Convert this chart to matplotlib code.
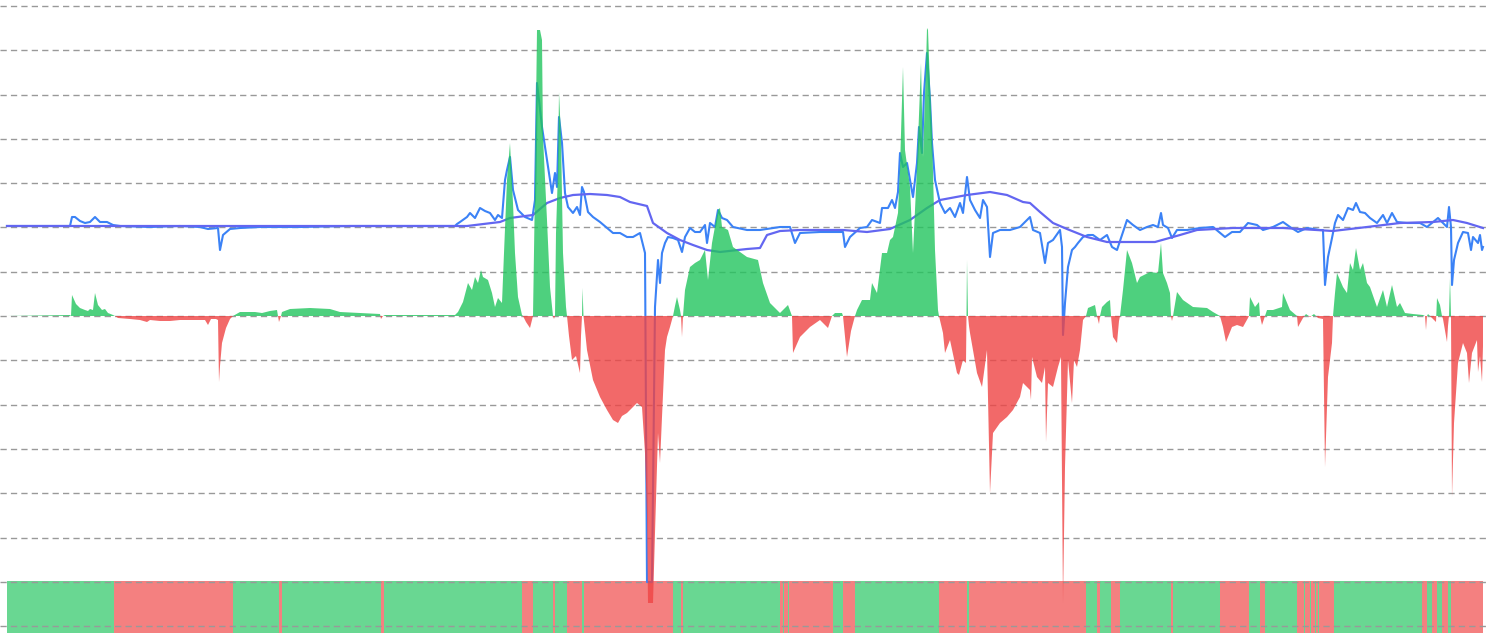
import numpy as np
import matplotlib.pyplot as plt

# price line (offset units, hist zero = 0)
price_t = [7, 70, 72, 75, 80, 85, 90, 95, 100, 107, 113, 120, 150, 180, 200, 208, 218, 220, 223, 230,
           240, 260, 300, 350, 400, 455, 457, 460, 467, 470, 475, 480, 485, 490, 495, 498, 502, 505,
           507, 510, 513, 518, 525, 532, 535, 537, 539, 542, 544, 547, 552, 555, 557, 559, 562, 565,
           568, 573, 577, 580, 582, 584, 588, 593, 600, 607, 613, 620, 627, 633, 640, 645, 647, 648,
           652, 655, 658, 660, 662, 665, 668, 673, 678, 682, 685, 690, 695, 700, 705, 707, 710, 715,
           718, 722, 727, 733, 747, 760, 780, 790, 795, 800, 820, 843, 845, 850, 860, 867, 872, 880,
           882, 888, 892, 895, 898, 900, 903, 907, 910, 913, 917, 919, 922, 924, 927, 930, 932, 935,
           940, 945, 950, 955, 960, 963, 967, 970, 975, 980, 983, 987, 990, 993, 1000, 1010, 1020,
           1030, 1033, 1040, 1045, 1048, 1053, 1060, 1062, 1063, 1065, 1068, 1072, 1075, 1078, 1083,
           1088, 1093, 1100, 1107, 1112, 1117, 1122, 1127, 1133, 1140, 1147, 1153, 1158, 1161, 1163,
           1168, 1172, 1177, 1187, 1200, 1213, 1225, 1232, 1240, 1248, 1257, 1263, 1273, 1283, 1290,
           1298, 1307, 1320, 1323, 1325, 1328, 1332, 1335, 1338, 1343, 1348, 1353, 1356, 1360, 1365,
           1370, 1377, 1383, 1387, 1392, 1397, 1407, 1420, 1427, 1438, 1447, 1449, 1451, 1452, 1454,
           1458, 1463, 1468, 1471, 1473, 1478, 1480, 1482, 1483]
price_v = [90, 90, 99, 99, 95, 93, 94, 99, 94, 94, 91, 90, 89, 90, 89, 87, 88, 66, 81, 87,
           88, 89, 89, 90, 90, 90, 92, 94, 99, 103, 98, 108, 105, 103, 96, 101, 98, 136,
           146, 159, 126, 106, 99, 96, 116, 233, 216, 189, 176, 156, 123, 143, 129, 199, 173, 123,
           109, 103, 109, 101, 129, 124, 104, 99, 94, 88, 83, 83, 79, 79, 83, 63, -266, -266,
           -266, 9, 56, 33, 63, 73, 79, 78, 76, 64, 79, 88, 84, 84, 91, 73, 93, 89,
           106, 98, 96, 89, 86, 86, 89, 89, 73, 83, 84, 84, 69, 79, 88, 89, 96, 93,
           108, 108, 116, 108, 124, 163, 149, 153, 136, 119, 153, 189, 163, 223, 263, 216, 173, 136,
           113, 103, 108, 99, 113, 103, 139, 116, 106, 98, 116, 109, 59, 83, 86, 86, 89,
           99, 86, 83, 53, 73, 76, 86, 69, -19, 13, 49, 66, 69, 73, 79,
           81, 81, 76, 81, 69, 66, 81, 96, 91, 86, 89, 91, 89, 103, 91,
           88, 78, 86, 86, 88, 89, 79, 84, 84, 93, 91, 86, 89, 94, 89,
           84, 88, 86, 86, 31, 59, 78, 93, 101, 96, 108, 106, 113, 104, 103,
           98, 93, 101, 93, 103, 94, 93, 93, 89, 98, 89, 109, 89, 31, 56,
           73, 84, 83, 66, 79, 73, 81, 66, 69]

# moving average
ma_t = [7, 455, 467, 500, 510, 533, 547, 560, 573, 590, 607, 620, 630, 647, 653, 667, 680, 693, 707,
        720, 747, 760, 767, 780, 800, 843, 867, 890, 910, 927, 940, 967, 990, 1007, 1023, 1030, 1040,
        1053, 1067, 1087, 1107, 1127, 1155, 1180, 1197, 1233, 1283, 1333, 1367, 1400, 1433, 1453,
        1467, 1483]
ma_v = [90, 90, 90, 94, 98, 101, 113, 118, 121, 122, 121, 119, 114, 110, 93, 83, 76, 71, 66,
        64, 67, 68, 81, 85, 86, 86, 84, 87, 96, 108, 116, 121, 124, 121, 114, 113, 104,
        93, 87, 79, 74, 74, 74, 81, 86, 88, 88, 85, 89, 93, 94, 96,
        93, 88]

# histogram
hist_t = [7, 70, 71, 72, 76, 80, 85, 88, 90, 93, 95, 98, 102, 105, 108, 113, 115, 118, 130, 140,
          147, 150, 160, 170, 180, 195, 205, 208, 211, 216, 218, 219, 220, 222, 226, 230, 233, 240,
          255, 262, 270, 277, 278, 279, 281, 282, 290, 310, 330, 340, 360, 380, 381, 383, 385, 420,
          455, 458, 463, 468, 472, 475, 478, 481, 483, 488, 492, 495, 498, 502, 504, 507, 510, 513,
          515, 518, 522, 523, 526, 530, 533, 535, 537, 540, 542, 543, 547, 550, 553, 554, 555, 556,
          558, 559, 561, 563, 566, 567, 569, 572, 576, 580, 581, 582, 582.5, 583.5, 584, 587, 593,
          600, 607, 613, 618, 622, 627, 632, 637, 642, 645, 647, 648, 653, 655, 658, 660, 662, 665,
          667, 670, 673, 675, 677, 680, 681, 682, 683, 685, 690, 695, 700, 705, 708, 712, 718, 720,
          722, 728, 733, 740, 747, 758, 763, 770, 780, 788, 792, 793, 800, 810, 820, 828, 832, 835,
          842, 843, 847, 851, 855, 857, 862, 870, 872, 877, 882, 887, 890, 893, 898, 900, 903, 905,
          910, 913, 917, 921, 923, 926, 927, 928, 930, 932, 935, 938, 939, 943, 945, 950, 957, 959,
          963, 966, 966.5, 967, 968, 969, 970, 977, 982, 987, 990, 993, 1000, 1007, 1013, 1020,
          1023, 1030, 1031, 1032, 1037, 1042, 1045, 1046, 1048, 1053, 1058, 1061, 1063, 1065, 1068,
          1072, 1074, 1077, 1080, 1083, 1086, 1088, 1095, 1097, 1099, 1100, 1102, 1107, 1110, 1111,
          1113, 1117, 1119, 1120, 1123, 1127, 1132, 1137, 1140, 1150, 1158, 1161, 1163, 1167, 1170,
          1171, 1172, 1173, 1177, 1183, 1193, 1207, 1213, 1220, 1223, 1226, 1232, 1237, 1243, 1248,
          1249, 1250, 1255, 1259, 1260, 1262, 1265, 1267, 1273, 1282, 1283, 1290, 1297, 1298, 1303,
          1306, 1310, 1314, 1318, 1323, 1325, 1328, 1332, 1333, 1335, 1337, 1340, 1343, 1347, 1350,
          1353, 1356, 1360, 1363, 1367, 1370, 1377, 1383, 1387, 1392, 1397, 1400, 1405, 1413, 1423,
          1425, 1426, 1427, 1428, 1433, 1436, 1437, 1440, 1442, 1443, 1447, 1448, 1449, 1450, 1451,
          1452, 1454, 1458, 1463, 1467, 1469, 1472, 1477, 1478, 1480, 1482, 1483]
hist_v = [0, 1, 0, 21, 12, 8, 6, 5, 7, 6, 23, 11, 6, 7, 3, 1, 0, -2, -3, -4,
          -6, -4, -5, -5, -4, -4, -4, -9, -3, -3, -4, -66, -50, -27, -12, -3, 0, 4,
          4, 3, 5, 6, 0, -6, 0, 4, 7, 8, 7, 4, 3, 2, -3, 0, 1, 1,
          1, 4, 14, 33, 26, 39, 33, 46, 39, 36, 23, 9, 18, 13, 63, 136, 173, 113,
          63, 19, 1, 0, -6, -12, 0, 129, 286, 286, 276, 179, 96, 29, 0, -3, 0, 83,
          146, 224, 179, 63, 9, 0, -20, -44, -40, -57, -20, 0, 28, 0, -5, -34, -64,
          -81, -94, -104, -107, -100, -97, -92, -87, -91, -137, -200, -287, -287, -217, -117, -147, -101, -34,
          -21, -11, 0, 10, 19, 6, 0, -21, 0, 26, 49, 53, 56, 66, 36, 73, 106, 108,
          89, 86, 69, 64, 59, 56, 33, 13, 3, 11, 0, -37, -21, -11, -4, -12, 0, 3,
          3, 0, -41, -15, 0, 6, 16, 16, 33, 23, 63, 63, 76, 79, 103, 149, 249, 166,
          129, 63, 149, 253, 159, 250, 288, 286, 230, 183, 66, 6, 0, -17, -37, -24, -57, -59,
          -44, -47, 0, 56, 0, -10, -17, -57, -71, -34, -177, -117, -107, -101, -94, -81,
          -67, -74, -84, -41, -61, -67, -51, -126, -67, -71, -51, -41, -287, -151, -44,
          -87, -44, -51, -34, -4, 0, 8, 11, 0, -8, 0, 9, 14, 16, 0,
          -21, -27, -5, 0, 26, 66, 53, 33, 39, 44, 43, 73, 43, 33, 23,
          0, -5, 0, 24, 16, 9, 8, 4, 0, -11, -26, -11, -9, -11, -2,
          0, 19, 9, 14, 0, -9, 0, 6, 6, 9, 23, 6, 0, -11, -2,
          2, -1, 2, -2, -3, -151, -61, -27, 0, 23, 43, 36, 29, 23, 53,
          46, 68, 46, 53, 33, 29, 9, 26, 9, 31, 9, 13, 3, 2, 1,
          0, -14, 0, 2, -3, -6, 18, 11, 0, -3, -26, -10, 0, 38, 0,
          -181, -107, -47, -27, -37, -67, -37, -24, -56, -40, -66, -30]

# bottom state strip: segment boundaries and state (1 = up, 0 = down)
band_edges = [7, 114, 233, 279, 282, 381, 384, 522, 533, 553, 555, 567, 582, 584, 673, 681, 683,
              780, 783, 784, 788, 789, 833, 843, 855, 939, 967, 969, 1086, 1097, 1100, 1111, 1120,
              1171, 1173, 1220, 1249, 1260, 1265, 1297, 1304, 1305, 1310, 1311, 1315, 1316, 1318,
              1319, 1334, 1422, 1427, 1432, 1437, 1442, 1448, 1451, 1483]
band_up = [1, 0, 1, 0, 1, 0, 1, 0, 1, 0, 1, 0, 1, 0, 1, 0, 1,
           0, 1, 0, 1, 0, 1, 0, 1, 0, 1, 0, 1, 0, 1, 0, 1,
           0, 1, 0, 1, 0, 1, 0, 1, 0, 1, 0, 1, 0, 1,
           0, 1, 0, 1, 0, 1, 0, 1, 0]

green = '#22c55e'
red = '#ef4444'

fig = plt.figure(figsize=(14.9, 6.33), dpi=100)
ax = fig.add_axes([0, 0, 1, 1])

# strip
lefts = np.array(band_edges[:-1])
widths = np.diff(band_edges)
cols = [green if u else red for u in band_up]
ax.bar(lefts, 55, width=widths, bottom=-320, align='edge', color=cols,
       alpha=0.68, linewidth=0, zorder=1)

# lines
ax.plot(price_t, price_v, color='#3b82f6', lw=1.5, zorder=2)
ax.plot(ma_t, ma_v, color='#6366f1', lw=1.6, zorder=2)

# histogram area
ht = np.array(hist_t, dtype=float)
hv = np.array(hist_v, dtype=float)
ax.fill_between(ht, 0, hv, where=hv >= 0, interpolate=True, color=green,
                alpha=0.8, linewidth=0, zorder=3)
ax.fill_between(ht, 0, hv, where=hv <= 0, interpolate=True, color=red,
                alpha=0.8, linewidth=0, zorder=3)

ax.set_xlim(0, 1490)
ax.set_ylim(-317, 316)
ax.set_yticks(np.arange(-7, 8) * 44.3)
ax.set_xticks([])
ax.grid(axis='y', color='#999999', linestyle=(0, (4.5, 3)), lw=1.0, zorder=0)
ax.tick_params(left=False, labelleft=False)
for s in ax.spines.values():
    s.set_visible(False)

fig.savefig('out.png', dpi=100)
